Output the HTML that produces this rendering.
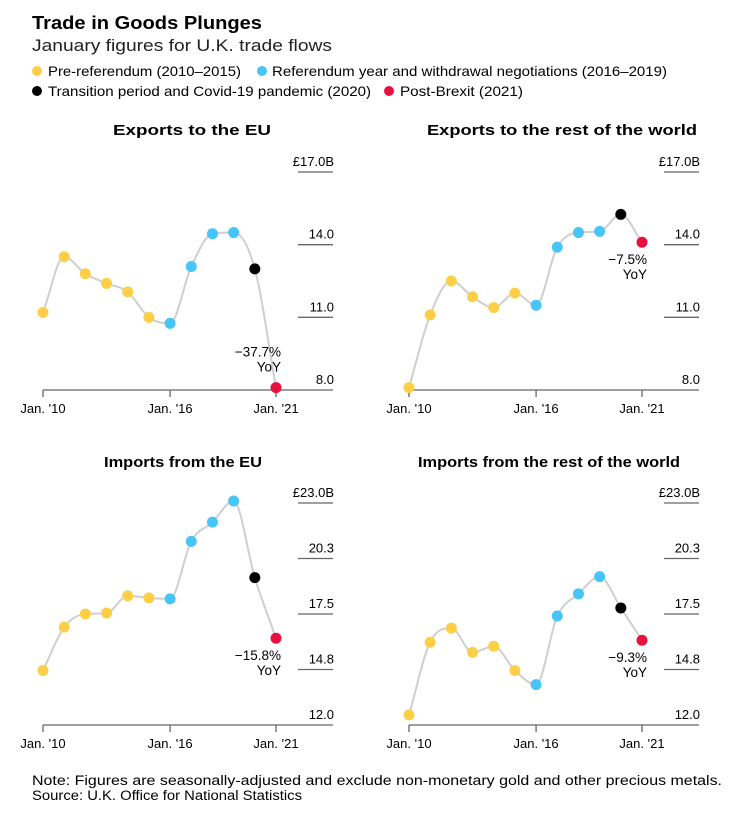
<!DOCTYPE html>
<html><head><meta charset="utf-8">
<style>
body{margin:0;background:#fff;font-family:"Liberation Sans",Arial,sans-serif;color:#000;}
svg text{font-family:"Liberation Sans",Arial,sans-serif;}
</style></head>
<body>
<svg id="c" width="737" height="815" viewBox="0 0 737 815" xmlns="http://www.w3.org/2000/svg">
<text x="32" y="29" font-size="18" font-weight="bold" textLength="230" lengthAdjust="spacingAndGlyphs">Trade in Goods Plunges</text>
<text x="32" y="51" font-size="17" fill="#222" textLength="300" lengthAdjust="spacingAndGlyphs">January figures for U.K. trade flows</text>
<g font-size="14">
<circle cx="37" cy="71" r="5" fill="#fdcf47"/><text x="48" y="76" textLength="193" lengthAdjust="spacingAndGlyphs">Pre-referendum (2010–2015)</text>
<circle cx="262" cy="71" r="5" fill="#47c4f8"/><text x="272" y="76" textLength="395" lengthAdjust="spacingAndGlyphs">Referendum year and withdrawal negotiations (2016–2019)</text>
<circle cx="37" cy="91" r="5" fill="#000"/><text x="48" y="96" textLength="323" lengthAdjust="spacingAndGlyphs">Transition period and Covid-19 pandemic (2020)</text>
<circle cx="389" cy="91" r="5" fill="#e8103f"/><text x="400" y="96" textLength="123" lengthAdjust="spacingAndGlyphs">Post-Brexit (2021)</text>
</g>
<text x="32" y="785" font-size="13.5" textLength="690" lengthAdjust="spacingAndGlyphs">Note: Figures are seasonally-adjusted and exclude non-monetary gold and other precious metals.</text>
<text x="32" y="800" font-size="13.5" textLength="270" lengthAdjust="spacingAndGlyphs">Source: U.K. Office for National Statistics</text>
</svg>
<script>
const years = [2010,2011,2012,2013,2014,2015,2016,2017,2018,2019,2020,2021];
const exportsEU = [11.2,13.5,12.8,12.4,12.05,11.0,10.75,13.1,14.45,14.5,13.0,8.1];
const exportsRoW = [8.1,11.1,12.5,11.85,11.4,12.0,11.5,13.9,14.5,14.55,15.25,14.1];
const importsEU = [14.7,16.85,17.5,17.55,18.4,18.3,18.25,21.1,22.05,23.1,19.3,16.3];
const importsRoW = [12.5,16.1,16.8,15.6,15.9,14.7,14.0,17.4,18.5,19.35,17.8,16.2];
const topTicks = ["£17.0B","14.0","11.0","8.0"];
const topTickVals = [17,14,11,8];
const botTicks = ["£23.0B","20.3","17.5","14.8","12.0"];
const botTickVals = [23,20.25,17.5,14.75,12];
const xLabels = ["Jan. '10","Jan. '16","Jan. '21"];
const xLabelYears = [2010,2016,2021];
const titles = ["Exports to the EU","Exports to the rest of the world","Imports from the EU","Imports from the rest of the world"];
const yoy = ["−37.7%","−7.5%","−15.8%","−9.3%"];

const NS="http://www.w3.org/2000/svg";
const svg=document.getElementById('c');
function mk(tag,attrs,parent,txt){const e=document.createElementNS(NS,tag);for(const k in attrs)e.setAttribute(k,attrs[k]);if(txt!==undefined)e.textContent=txt;(parent||svg).appendChild(e);return e;}
function color(y){return y<=2015?"#fdcf47":y<=2019?"#47c4f8":y===2020?"#000":"#e8103f";}
function monotonePath(p){
  const n=p.length,dx=[],s=[],m=[];
  for(let i=0;i<n-1;i++){dx[i]=p[i+1][0]-p[i][0];s[i]=(p[i+1][1]-p[i][1])/dx[i];}
  m[0]=s[0];m[n-1]=s[n-2];
  for(let i=1;i<n-1;i++){m[i]=(s[i-1]*s[i]<=0)?0:(s[i-1]+s[i])/2;}
  for(let i=0;i<n-1;i++){if(s[i]===0){m[i]=0;m[i+1]=0;continue;}
    const a=m[i]/s[i],b=m[i+1]/s[i],h=a*a+b*b;if(h>9){const t=3/Math.sqrt(h);m[i]=t*a*s[i];m[i+1]=t*b*s[i];}}
  let d='M'+p[0][0]+','+p[0][1];
  for(let i=0;i<n-1;i++){const h=dx[i]/3;
    d+=' C'+(p[i][0]+h)+','+(p[i][1]+m[i]*h)+' '+(p[i+1][0]-h)+','+(p[i+1][1]-m[i+1]*h)+' '+p[i+1][0]+','+p[i+1][1];}
  return d;
}
function panel(idx,x0,titleX,titleW,titleY,yTop,yBot,vTop,vBot,vals,ticks,tickVals,yoyPos){
  const g=mk('g',{});
  
  
  const x1=x0+233;
  const sx=y=>x0+(y-2010)*(x1-x0)/11;
  const sy=v=>yBot-(v-vBot)*(yBot-yTop)/(vTop-vBot);
  const t=mk('text',{x:titleX,y:titleY,'font-size':15,'font-weight':'bold',textLength:titleW,lengthAdjust:'spacingAndGlyphs'},g,titles[idx]);
  
  
  ticks.forEach((lab,i)=>{
    const yy=sy(tickVals[i]);
    if(i<ticks.length-1){const l=mk('line',{x1:x0+255,x2:x0+290,y1:yy,y2:yy,stroke:'#666','stroke-width':1.3},g);
      
      }
    const tt=mk('text',{x:x0+291,y:yy-6,'font-size':13,'text-anchor':'end'},g,lab);
    
    
  });
  const ax=mk('line',{x1:x0,x2:x0+290,y1:yBot,y2:yBot,stroke:'#666','stroke-width':1.3},g);
  
  
  xLabelYears.forEach((yr,i)=>{
    mk('line',{x1:sx(yr),x2:sx(yr),y1:yBot,y2:yBot+7,stroke:'#666','stroke-width':1.3},g);
    const xl=mk('text',{x:sx(yr),y:yBot+23,'font-size':13,'text-anchor':'middle'},g,xLabels[i]);
    
    
  });
  const pts=vals.map((v,i)=>[sx(years[i]),sy(v)]);
  const ln=mk('path',{d:monotonePath(pts),fill:'none',stroke:'#cfcfcf','stroke-width':2},g);
  
  
  pts.forEach((p,i)=>{
    const c=mk('circle',{cx:p[0],cy:p[1],r:5.5,fill:color(years[i])},g);
    
    
  });
  const last=pts[pts.length-1];
  const a=mk('text',{x:last[0]+5,y:last[1]+yoyPos,'font-size':13.5,'text-anchor':'end'},g,yoy[idx]);
  
  
  const b=mk('text',{x:last[0]+5,y:last[1]+yoyPos+15,'font-size':13.5,'text-anchor':'end'},g,'YoY');
  
  
}
panel(0,43,113,158,135,172,390,17,8,exportsEU,topTicks,topTickVals,-31);
panel(1,409,427,270,135,172,390,17,8,exportsRoW,topTicks,topTickVals,22);
panel(2,43,104,158,467,503,725,23,12,importsEU,botTicks,botTickVals,22);
panel(3,409,418,262,467,503,725,23,12,importsRoW,botTicks,botTickVals,22);
</script>
</body></html>
